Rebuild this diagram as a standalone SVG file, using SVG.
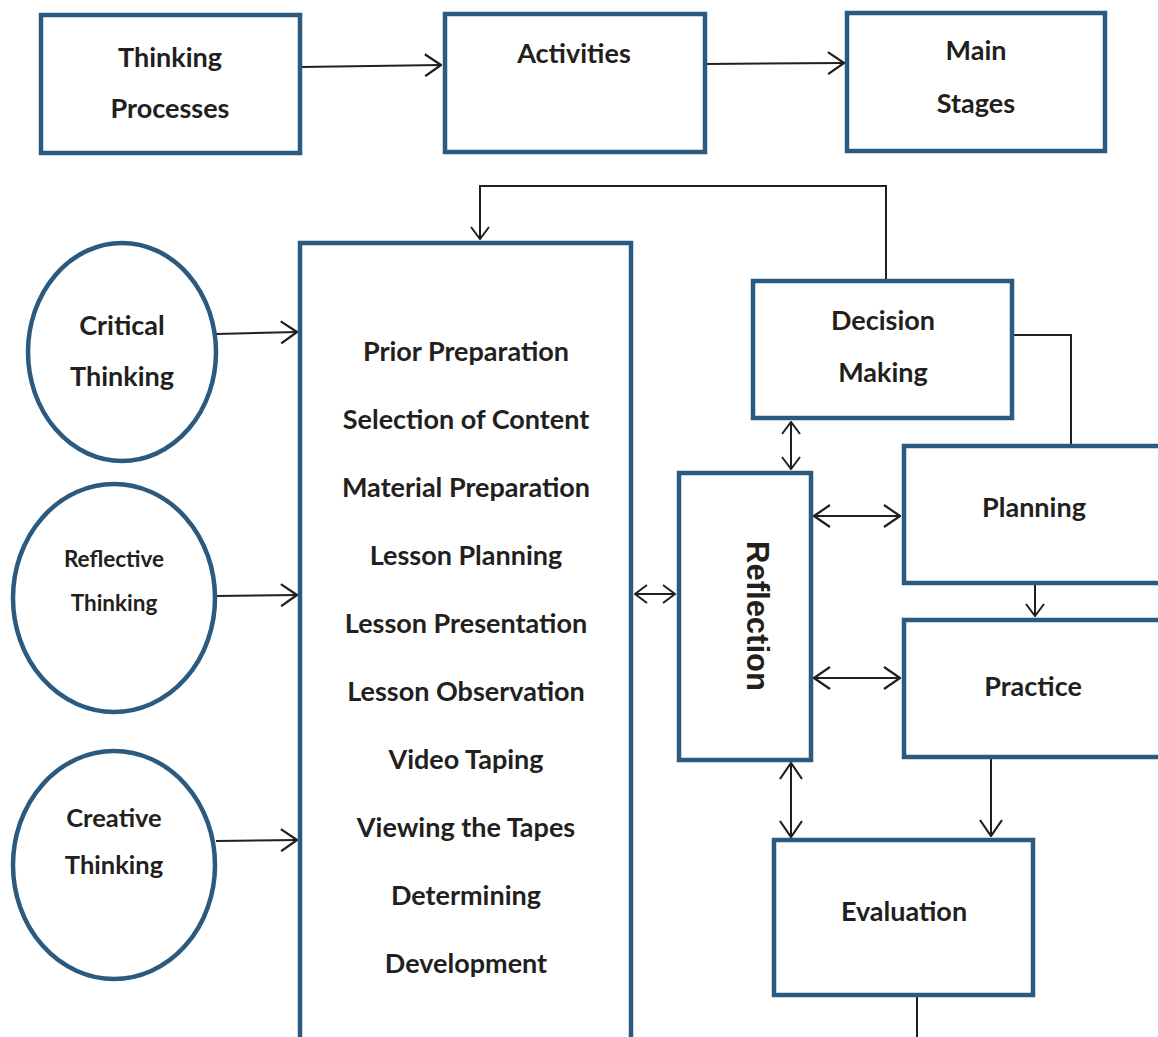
<svg xmlns="http://www.w3.org/2000/svg" width="1158" height="1037" viewBox="0 0 1158 1037">
<style>
.box{fill:#fff;stroke:#2b5a80;stroke-width:4.5}
.t{font-family:Lato,"Open Sans",sans-serif;font-weight:bold;font-size:27px;fill:#231f20;text-anchor:middle}
.c{fill:none;stroke:#231f20;stroke-width:2}
</style>
<defs>
<marker id="ah" viewBox="0 0 18 24" refX="17" refY="12" markerWidth="18" markerHeight="24" markerUnits="userSpaceOnUse" orient="auto-start-reverse">
<path d="M1,1 L17,12 L1,23" fill="none" stroke="#231f20" stroke-width="2.2"/>
</marker>
<marker id="as" viewBox="0 0 14 20" refX="13" refY="10" markerWidth="14" markerHeight="20" markerUnits="userSpaceOnUse" orient="auto-start-reverse">
<path d="M1,1 L13,10 L1,19" fill="none" stroke="#231f20" stroke-width="2"/>
</marker>
</defs>
<rect width="1158" height="1037" fill="#fff"/>
<g id="connectors">
<line class="c" x1="300" y1="67" x2="441" y2="65" marker-end="url(#ah)"/>
<line class="c" x1="705" y1="64" x2="844" y2="63" marker-end="url(#ah)"/>
<polyline class="c" points="886,281 886,186 480,186 480,239" marker-end="url(#as)"/>
<line class="c" x1="216" y1="334" x2="297" y2="332" marker-end="url(#ah)"/>
<line class="c" x1="216" y1="596" x2="297" y2="595" marker-end="url(#ah)"/>
<line class="c" x1="216" y1="841" x2="297" y2="840" marker-end="url(#ah)"/>
<polyline class="c" points="1013,335 1071,335 1071,445"/>
<line class="c" x1="635" y1="594" x2="675" y2="594" marker-start="url(#as)" marker-end="url(#as)"/>
<line class="c" x1="791" y1="422" x2="791" y2="469" marker-start="url(#as)" marker-end="url(#as)"/>
<line class="c" x1="814" y1="516" x2="900" y2="516" marker-start="url(#ah)" marker-end="url(#ah)"/>
<line class="c" x1="814" y1="678" x2="900" y2="678" marker-start="url(#ah)" marker-end="url(#ah)"/>
<line class="c" x1="1035" y1="584" x2="1035" y2="616" marker-end="url(#as)"/>
<line class="c" x1="791" y1="763" x2="791" y2="837" marker-start="url(#ah)" marker-end="url(#ah)"/>
<line class="c" x1="991" y1="759" x2="991" y2="836" marker-end="url(#ah)"/>
<line class="c" x1="917" y1="995" x2="917" y2="1037"/>
</g>
<g id="thinking-processes">
<rect class="box" x="41" y="15" width="259" height="138"/>
<text class="t" x="170" y="67">Thinking</text>
<text class="t" x="170" y="118">Processes</text>
</g>
<g id="activities">
<rect class="box" x="445" y="14" width="260" height="138"/>
<text class="t" x="574" y="63">Activities</text>
</g>
<g id="main-stages">
<rect class="box" x="847" y="13" width="258" height="138"/>
<text class="t" x="976" y="60">Main</text>
<text class="t" x="976" y="113">Stages</text>
</g>
<g id="critical-thinking">
<ellipse class="box" cx="122" cy="352" rx="94" ry="109"/>
<text class="t" x="122" y="335">Critical</text>
<text class="t" x="122" y="386">Thinking</text>
</g>
<g id="reflective-thinking">
<ellipse class="box" cx="114" cy="598" rx="101" ry="114"/>
<text class="t" x="114" y="567" style="font-size:22.5px">Reflective</text>
<text class="t" x="114" y="611" style="font-size:22.5px">Thinking</text>
</g>
<g id="creative-thinking">
<ellipse class="box" cx="114" cy="865" rx="101" ry="114"/>
<text class="t" x="114" y="827" style="font-size:25.5px">Creative</text>
<text class="t" x="114" y="874" style="font-size:25.5px">Thinking</text>
</g>
<g id="activities-list">
<rect class="box" x="300" y="243" width="331" height="800"/>
<text class="t" x="466" y="361">Prior Preparation</text>
<text class="t" x="466" y="429">Selection of Content</text>
<text class="t" x="466" y="497">Material Preparation</text>
<text class="t" x="466" y="565">Lesson Planning</text>
<text class="t" x="466" y="633">Lesson Presentation</text>
<text class="t" x="466" y="701">Lesson Observation</text>
<text class="t" x="466" y="769">Video Taping</text>
<text class="t" x="466" y="837">Viewing the Tapes</text>
<text class="t" x="466" y="905">Determining</text>
<text class="t" x="466" y="973">Development</text>
</g>
<g id="decision-making">
<rect class="box" x="753" y="281" width="259" height="137"/>
<text class="t" x="883" y="330">Decision</text>
<text class="t" x="883" y="382">Making</text>
</g>
<g id="reflection">
<rect class="box" x="679" y="473" width="132" height="287"/>
<text x="757" y="616" transform="rotate(90 757 616)" dominant-baseline="central" text-anchor="middle" style="font-family:'Liberation Sans',Arial,sans-serif;font-weight:bold;font-size:31px;fill:#231f20">Reflection</text>
</g>
<g id="planning">
<rect class="box" x="904" y="446" width="270" height="137"/>
<text class="t" x="1034" y="517">Planning</text>
</g>
<g id="practice">
<rect class="box" x="904" y="620" width="270" height="137"/>
<text class="t" x="1033" y="696">Practice</text>
</g>
<g id="evaluation">
<rect class="box" x="774" y="840" width="259" height="155"/>
<text class="t" x="904" y="921">Evaluation</text>
</g>
</svg>
